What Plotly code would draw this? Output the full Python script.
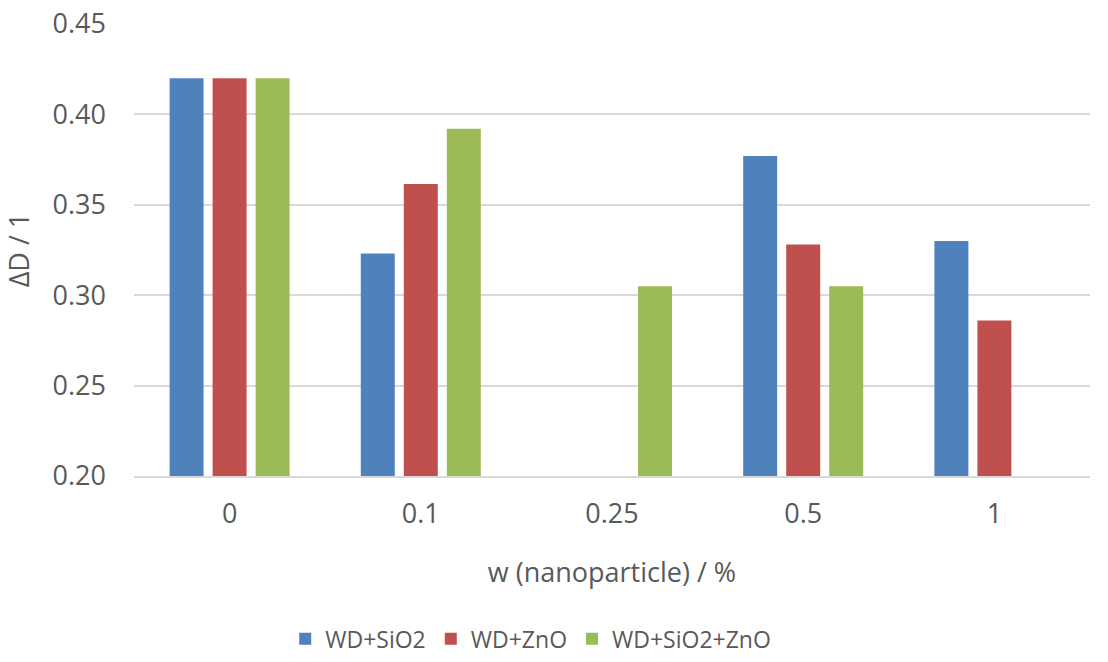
import plotly.graph_objects as go

# Nanoparticle mass fraction categories (x axis)
categories = ["0", "0.1", "0.25", "0.5", "1"]

# ΔD values per formulation; None where no measurement was made
wd_sio2 = [0.420, 0.323, None, 0.377, 0.330]
wd_zno = [0.420, 0.3615, None, 0.328, 0.286]
wd_sio2_zno = [0.420, 0.392, 0.305, 0.305, None]

y_ticks = [0.20, 0.25, 0.30, 0.35, 0.40, 0.45]

series = [
    ("WD+SiO2", wd_sio2, "#4F81BD"),
    ("WD+ZnO", wd_zno, "#C0504D"),
    ("WD+SiO2+ZnO", wd_sio2_zno, "#9BBB59"),
]

FONT = "Open Sans"
TEXT = "#595959"
tick_font = dict(family=FONT, size=27, color=TEXT)
title_font = dict(family=FONT, size=27, color=TEXT)
legend_font = dict(family=FONT, size=23, color=TEXT)

fig = go.Figure()
for name, vals, color in series:
    fig.add_trace(go.Bar(
        x=categories, y=vals, name=name,
        marker=dict(color=color, line=dict(width=0)),
    ))

fig.update_layout(
    width=1108, height=662,
    margin=dict(l=134, r=18, t=24, b=186, autoexpand=False),
    paper_bgcolor="white", plot_bgcolor="white",
    barmode="group", bargap=0.325, bargroupgap=0.21,
    font=tick_font,
    legend=dict(
        orientation="h", x=0.415, xanchor="center", y=-0.408, yanchor="bottom",
        font=legend_font, traceorder="normal",
    ),
    showlegend=True,
)

fig.update_yaxes(
    range=[0.20, 0.45], tickvals=y_ticks, tickformat=".2f",
    tickfont=tick_font, automargin=False,
    showgrid=True, gridcolor="#D9D9D9", gridwidth=1.5,
    zeroline=False, showline=False, ticks="",
    ticklabelstandoff=27,
    title=dict(text="ΔD / 1", font=title_font, standoff=18),
)
fig.update_xaxes(
    type="category", showgrid=False, showline=True, linecolor="#D9D9D9", linewidth=1.5,
    tickfont=tick_font, automargin=False,
    ticks="", ticklabelstandoff=13,
    title=dict(text="w (nanoparticle) / %", font=title_font, standoff=33),
)

fig.write_html("out.html")
